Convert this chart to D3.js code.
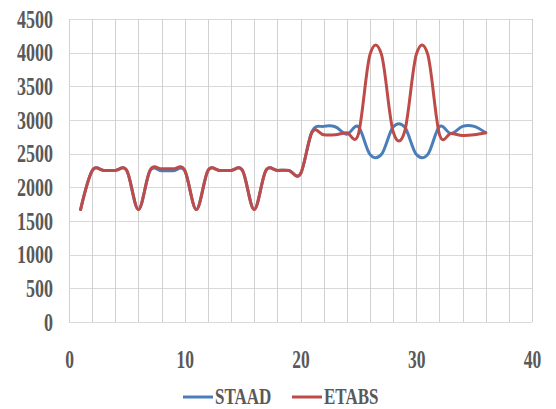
<!DOCTYPE html>
<html>
<head>
<meta charset="utf-8">
<script src="https://cdn.jsdelivr.net/npm/d3@7"></script>
<style>
  body { margin: 0; background: #fff; }
  svg text { font-family: "Liberation Serif", "Times New Roman", serif; font-weight: bold; fill: #595959; }
</style>
</head>
<body>
<svg id="chart" width="556" height="409"></svg>
<script>
// Storey numbers along the x axis
const storeys = d3.range(1, 37);

// Values per storey for each program
const staad = [1670, 2245, 2250, 2250, 2245, 1670, 2245, 2245, 2245, 2245,
               1670, 2245, 2250, 2250, 2245, 1670, 2245, 2250, 2250, 2200,
               2830, 2905, 2900, 2790, 2900, 2490, 2490, 2895, 2895, 2490,
               2490, 2900, 2800, 2905, 2905, 2810];
const etabs = [1670, 2245, 2250, 2250, 2245, 1670, 2255, 2275, 2275, 2255,
               1670, 2245, 2250, 2250, 2245, 1670, 2245, 2250, 2250, 2200,
               2820, 2780, 2780, 2810, 2790, 3970, 3970, 2830, 2830, 3970,
               3970, 2790, 2800, 2770, 2780, 2810];

const xTicks = [0, 10, 20, 30, 40];
const yTicks = [0, 500, 1000, 1500, 2000, 2500, 3000, 3500, 4000, 4500];
const xGrid = d3.range(0, 41, 2);

const seriesNames = ["STAAD", "ETABS"];
const seriesColors = ["#4a7ebb", "#be4b48"];
const seriesValues = [staad, etabs];

const svg = d3.select("#chart");
const x = d3.scaleLinear().domain([0, 40]).range([69, 532]);
const y = d3.scaleLinear().domain([0, 4500]).range([322, 19]);

// Grid
svg.append("g").selectAll("line").data(yTicks).join("line")
  .attr("x1", x(0)).attr("x2", x(40))
  .attr("y1", d => Math.round(y(d)) + 0.5).attr("y2", d => Math.round(y(d)) + 0.5)
  .attr("stroke", "#d9d9d9").attr("stroke-width", 1);
svg.append("g").selectAll("line").data(xGrid).join("line")
  .attr("x1", d => Math.round(x(d)) + 0.5).attr("x2", d => Math.round(x(d)) + 0.5)
  .attr("y1", y(0)).attr("y2", y(4500))
  .attr("stroke", "#d0d0d0").attr("stroke-width", 1);

// Y axis labels (tall, narrow serif digits)
const yAxis = svg.append("g").attr("transform", `translate(${x(0)},0)`)
  .call(d3.axisLeft(y).tickValues(yTicks).tickSize(0).tickPadding(16).tickFormat(d3.format("d")));
yAxis.select(".domain").remove();
yAxis.selectAll("text")
  .attr("y", 0).attr("dy", null)
  .attr("dominant-baseline", "central")
  .attr("font-size", 18)
  .attr("transform", "scale(1,1.38)");

// X axis labels
const xAxis = svg.append("g").attr("transform", `translate(0,${y(0)})`)
  .call(d3.axisBottom(x).tickValues(xTicks).tickSize(0).tickFormat(d3.format("d")));
xAxis.select(".domain").remove();
xAxis.selectAll("text")
  .attr("y", 0).attr("dy", null)
  .attr("dominant-baseline", "central")
  .attr("font-size", 17.5)
  .attr("transform", "translate(0,38) scale(1,1.38)");
svg.selectAll("g.tick text")
  .attr("font-family", null)
  .style("font-family", "'Liberation Serif', 'Times New Roman', serif")
  .style("font-weight", "bold");

// Smoothed series lines
const line = d3.line()
  .x((d, i) => x(storeys[i]))
  .y(d => y(d))
  .curve(d3.curveCatmullRom.alpha(0));

svg.append("g").selectAll("path").data(seriesValues).join("path")
  .attr("d", d => line(d))
  .attr("fill", "none")
  .attr("stroke", (d, i) => seriesColors[i])
  .attr("stroke-width", 3)
  .attr("stroke-linejoin", "round")
  .attr("stroke-linecap", "round");

// Legend
const legendX = [183, 292];
const legend = svg.append("g").selectAll("g").data(seriesNames).join("g")
  .attr("transform", (d, i) => `translate(${legendX[i]},396.5)`);
legend.append("line")
  .attr("x1", 0).attr("x2", 30).attr("y1", 0.5).attr("y2", 0.5)
  .attr("stroke", (d, i) => seriesColors[i]).attr("stroke-width", 3);
legend.append("text")
  .attr("x", 32).attr("y", 0)
  .attr("dominant-baseline", "central")
  .attr("font-size", 17)
  .attr("transform", "scale(1,1.36)")
  .text(d => d);
</script>
</body>
</html>
